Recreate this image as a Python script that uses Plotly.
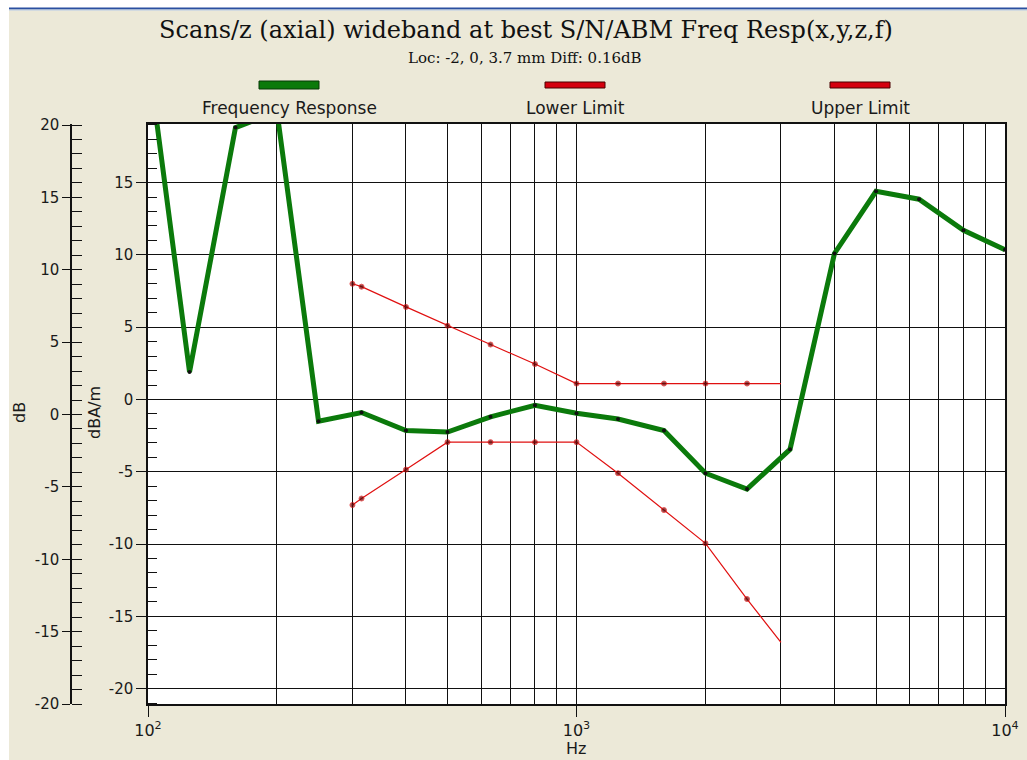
import plotly.graph_objects as go

# ---- data -------------------------------------------------------------
resp_hz = [100, 125, 160, 200, 250, 315, 400, 500, 630, 800, 1000,
           1250, 1600, 2000, 2500, 3150, 4000, 5000, 6300, 8000, 10000]
resp_db = [23.8, 1.9, 18.8, 19.9, -1.5, -0.9, -2.15, -2.25, -1.2, -0.4, -0.95,
           -1.35, -2.15, -5.1, -6.2, -3.45, 10.1, 14.4, 13.85, 11.7, 10.35]

limit_hz = [300, 315, 400, 500, 630, 800, 1000, 1250, 1600, 2000, 2500, 3000]
upper_db = [8.0, 7.8, 6.4, 5.1, 3.8, 2.45, 1.1, 1.1, 1.1, 1.1, 1.1, 1.1]
lower_db = [-7.3, -6.85, -4.85, -2.95, -2.95, -2.95, -2.95, -5.1, -7.65, -9.95, -13.8, -16.8]

series_names = ["Frequency Response", "Lower Limit", "Upper Limit"]
x_tick_vals = [100, 1000, 10000]
x_tick_text = ["10<sup>2</sup>", "10<sup>3</sup>", "10<sup>4</sup>"]
y_tick_vals = [-20, -15, -10, -5, 0, 5, 10, 15, 20]
y_tick_text = ["-20", "-15", "-10", "-5", "0", "5", "10", "15", "20"]

title_text = "Scans/z (axial) wideband at best S/N/ABM Freq Resp(x,y,z,f)"
subtitle_text = "Loc: -2, 0, 3.7 mm Diff: 0.16dB"

# ---- page geometry (pixels) -------------------------------------------
W, H = 1027, 760
ML, MR, MT, MB = 0, 22, 124, 56
PW, PH = W - ML - MR, H - MT - MB
PLOT_LEFT = 148
OUTER_AXIS_X = 71


def px(x):
    return (x - ML) / PW


def py(y):
    return (H - MB - y) / PH


GREEN = "#0B7A0B"
RED = "#E01010"
BG = "#ECE9D8"
SANS = "DejaVu Sans"
SERIF = "DejaVu Serif"

fig = go.Figure()

# limit curves: no dot on the closing 3 kHz point
lim_sizes = [5] * (len(limit_hz) - 1) + [0]
fig.add_trace(go.Scatter(
    x=limit_hz, y=upper_db, name=series_names[2], mode="lines+markers",
    line=dict(color=RED, width=1.2),
    marker=dict(color="#5A0000", size=lim_sizes), showlegend=False))
fig.add_trace(go.Scatter(
    x=limit_hz, y=lower_db, name=series_names[1], mode="lines+markers",
    line=dict(color=RED, width=1.2),
    marker=dict(color="#5A0000", size=lim_sizes), showlegend=False))
fig.add_trace(go.Scatter(
    x=resp_hz, y=resp_db, name=series_names[0], mode="lines+markers",
    line=dict(color=GREEN, width=5),
    marker=dict(color="#101010", size=4), showlegend=False))
# anchors the outer dB scale
fig.add_trace(go.Scatter(x=[None], y=[None], yaxis="y2", showlegend=False,
                         hoverinfo="skip"))

axis_font = dict(family=SANS, size=15, color="#1A1A1A")

fig.update_layout(
    template="none",
    width=W, height=H,
    margin=dict(l=ML, r=MR, t=MT, b=MB, pad=0, autoexpand=False),
    paper_bgcolor=BG, plot_bgcolor="white",
    xaxis=dict(
        type="log", range=[2, 4], domain=[px(PLOT_LEFT), 1], automargin=False,
        tickmode="array", tickvals=x_tick_vals, ticktext=x_tick_text,
        ticks="outside", ticklen=11, tickwidth=1.3, tickcolor="#111",
        tickfont=dict(family=SANS, size=16, color="#1A1A1A"),
        showgrid=True, gridcolor="#111", gridwidth=1.3,
        minor=dict(dtick="D1", showgrid=True, gridcolor="#111", gridwidth=1.3,
                   ticks=""),
        showline=True, linecolor="#111", linewidth=1.5, mirror=True,
        zeroline=False, fixedrange=True,
    ),
    yaxis=dict(
        range=[-21.06, 19.05], automargin=False,
        tickmode="array", tickvals=y_tick_vals, ticktext=y_tick_text,
        ticks="outside", ticklen=10, tickwidth=1.3, tickcolor="#111",
        tickfont=axis_font,
        showgrid=True, gridcolor="#111", gridwidth=1.3,
        minor=dict(dtick=1, tick0=0, ticks="inside", ticklen=9, tickwidth=1.2,
                   tickcolor="#111", showgrid=False),
        showline=True, linecolor="#111", linewidth=1.5, mirror=True,
        zeroline=False, fixedrange=True,
    ),
    yaxis2=dict(
        overlaying="y", anchor="free", position=px(OUTER_AXIS_X), side="left",
        range=[-20.0, 20.07], automargin=False,
        tickmode="array", tickvals=y_tick_vals, ticktext=y_tick_text,
        ticks="outside", ticklen=8, tickwidth=1.3, tickcolor="#111",
        tickfont=axis_font,
        minor=dict(dtick=1, tick0=0, ticks="inside", ticklen=10, tickwidth=1.2,
                   tickcolor="#111", showgrid=False),
        showgrid=False, zeroline=False,
        showline=True, linecolor="#111", linewidth=1.5, fixedrange=True,
    ),
)

shapes = [
    # window frame: white margin and blue rule along the top
    dict(type="rect", xref="paper", yref="paper", x0=px(0), x1=px(W),
         y0=py(8), y1=py(0), fillcolor="white", line=dict(width=0)),
    dict(type="rect", xref="paper", yref="paper", x0=px(0), x1=px(9),
         y0=py(H), y1=py(0), fillcolor="white", line=dict(width=0)),
    dict(type="line", xref="paper", yref="paper", x0=px(9), x1=px(W),
         y0=py(8.5), y1=py(8.5), line=dict(color="#2A4FA0", width=2)),
    dict(type="line", xref="paper", yref="paper", x0=px(9), x1=px(W),
         y0=py(10), y1=py(10), line=dict(color="#B8CCE8", width=1)),
]

# legend swatches
swatches = [
    (series_names[0], 289, GREEN, "#063806", 81, 89),
    (series_names[1], 575, "#D4000E", "#4A0000", 82, 88),
    (series_names[2], 860, "#D4000E", "#4A0000", 82, 88),
]
annotations = []
for name, cx, fill, edge, y0, y1 in swatches:
    shapes.append(dict(type="rect", xref="paper", yref="paper",
                       x0=px(cx - 30), x1=px(cx + 30), y0=py(y1), y1=py(y0),
                       fillcolor=fill, line=dict(color=edge, width=1)))
    annotations.append(dict(text=name, xref="paper", yref="paper",
                            x=px(cx), y=py(108), xanchor="center",
                            yanchor="middle", showarrow=False,
                            font=dict(family=SANS, size=17, color="#1A1A1A")))

annotations += [
    dict(text=title_text, xref="paper", yref="paper", x=px(526), y=py(30),
         xanchor="center", yanchor="middle", showarrow=False,
         font=dict(family=SERIF, size=24, color="#111")),
    dict(text=subtitle_text, xref="paper", yref="paper", x=px(525), y=py(58),
         xanchor="center", yanchor="middle", showarrow=False,
         font=dict(family=SERIF, size=15, color="#111")),
    dict(text="dB", xref="paper", yref="paper", x=px(19), y=py(413),
         xanchor="center", yanchor="middle", textangle=-90, showarrow=False,
         font=dict(family=SANS, size=16, color="#1A1A1A")),
    dict(text="dBA/m", xref="paper", yref="paper", x=px(94), y=py(413),
         xanchor="center", yanchor="middle", textangle=-90, showarrow=False,
         font=dict(family=SANS, size=16, color="#1A1A1A")),
    dict(text="Hz", xref="paper", yref="paper", x=px(576), y=py(748),
         xanchor="center", yanchor="middle", showarrow=False,
         font=dict(family=SANS, size=16, color="#1A1A1A")),
]

fig.update_layout(shapes=shapes, annotations=annotations)
fig.write_html("out.html")
